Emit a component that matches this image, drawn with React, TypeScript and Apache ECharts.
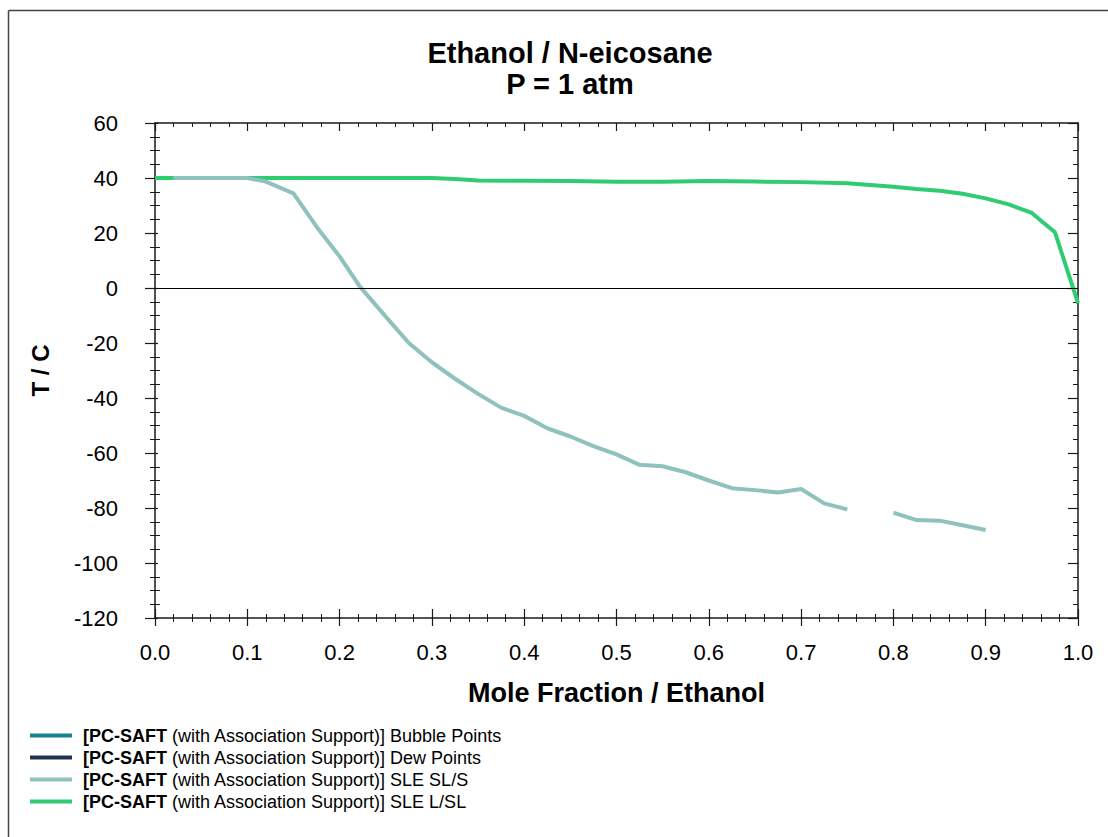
import React, { useEffect, useRef } from "react";
import * as echarts from "echarts";

// SLE L/SL branch (mole fraction ethanol, temperature in °C)
const lslX = [0, 0.05, 0.1, 0.15, 0.2, 0.25, 0.3, 0.325, 0.35, 0.4, 0.45, 0.5, 0.55, 0.6, 0.65, 0.7, 0.75, 0.8, 0.825, 0.85, 0.875, 0.9, 0.925, 0.95, 0.975, 1.0];
const lslT = [40, 40, 40, 40, 40, 40, 40, 39.6, 39.1, 39, 38.9, 38.6, 38.6, 38.9, 38.7, 38.5, 38.1, 36.8, 36, 35.4, 34.3, 32.6, 30.4, 27.3, 20.3, -5.5];

// SLE SL/S branch; null marks the break in the curve
const slsX = [0.02, 0.05, 0.1, 0.12, 0.15, 0.175, 0.2, 0.222, 0.25, 0.275, 0.3, 0.325, 0.35, 0.375, 0.4, 0.425, 0.45, 0.475, 0.5, 0.525, 0.55, 0.575, 0.6, 0.625, 0.65, 0.675, 0.7, 0.725, 0.75, 0.775, 0.8, 0.825, 0.85, 0.875, 0.9];
const slsT = [40, 40, 40, 38.7, 34.4, 22.3, 11.5, 0.5, -10.4, -20, -27, -33, -38.5, -43.5, -46.5, -51, -54, -57.5, -60.5, -64.3, -64.8, -67, -70, -72.8, -73.5, -74.4, -73.1, -78.3, -80.5, null, -81.7, -84.4, -84.6, -86.3, -88];

// Phase envelope branches (no points at this pressure)
const bubbleX: number[] = [];
const bubbleT: number[] = [];
const dewX: number[] = [];
const dewT: number[] = [];

const seriesNames = [
  "[PC-SAFT (with Association Support)] Bubble Points",
  "[PC-SAFT (with Association Support)] Dew Points",
  "[PC-SAFT (with Association Support)] SLE SL/S",
  "[PC-SAFT (with Association Support)] SLE L/SL",
];
const seriesColors = ["#1b8290", "#22344f", "#8fc1bd", "#2fcc72"];

const pairs = (xs: number[], ts: (number | null)[]) =>
  xs.map((x, i) => [x, ts[i] === null ? "-" : ts[i]]);

const FONT = "'Liberation Sans', Arial, Helvetica, sans-serif";
const AXIS_COLOR = "#1a1a1a";

export default function App() {
  const ref = useRef<HTMLDivElement>(null);

  useEffect(() => {
    if (!ref.current) return;
    const chart = echarts.init(ref.current, undefined, { renderer: "svg" });

    const xBase = { type: "value" as const, min: 0, max: 1, interval: 0.1, gridIndex: 0 };
    const yBase = { type: "value" as const, min: -120, max: 60, interval: 20, gridIndex: 0 };

    chart.setOption({
      animation: false,
      backgroundColor: "#ffffff",
      textStyle: { fontFamily: FONT },
      title: {
        text: "Ethanol / N-eicosane\nP = 1 atm",
        left: 565,
        top: 32,
        textAlign: "center",
        textStyle: { fontSize: 29, fontWeight: "bold", color: "#000", lineHeight: 31, fontFamily: FONT },
      },
      grid: { left: 155, top: 123, right: 30, bottom: 219, containLabel: false },
      legend: {
        orient: "vertical",
        left: 30,
        top: 726,
        padding: 0,
        icon: "rect",
        itemWidth: 42,
        itemHeight: 4,
        itemGap: 3,
        data: seriesNames,
        formatter: (name: string) => {
          const rest = name.replace("[PC-SAFT", "");
          return "{b|[PC-SAFT}" + rest;
        },
        textStyle: {
          fontSize: 18,
          lineHeight: 19,
          color: "#000",
          fontFamily: FONT,
          padding: [0, 0, 0, 6],
          rich: { b: { fontSize: 18, lineHeight: 19, fontWeight: "bold", color: "#000", fontFamily: FONT } },
        },
      },
      graphic: [
        { type: "line", shape: { x1: 8.5, y1: 10.5, x2: 8.5, y2: 837 }, style: { stroke: "#444", lineWidth: 1.5 } },
        { type: "line", shape: { x1: 8.5, y1: 10.5, x2: 1108, y2: 10.5 }, style: { stroke: "#444", lineWidth: 1.5 } },
      ],
      xAxis: [
        {
          ...xBase,
          position: "bottom",
          name: "Mole Fraction / Ethanol",
          nameLocation: "middle",
          nameGap: 61,
          nameTextStyle: { fontSize: 27, fontWeight: "bold", color: "#000", fontFamily: FONT },
          axisLine: { show: true, onZero: false, lineStyle: { color: AXIS_COLOR, width: 1.5 } },
          axisTick: { show: true, inside: true, length: 9, lineStyle: { color: AXIS_COLOR, width: 1.2 } },
          minorTick: { show: true, splitNumber: 5, length: 4, lineStyle: { color: AXIS_COLOR, width: 1 } },
          axisLabel: {
            show: true,
            margin: 23,
            fontSize: 22,
            color: "#000",
            fontFamily: FONT,
            formatter: (v: number) => v.toFixed(1),
          },
          splitLine: { show: false },
        },
        {
          ...xBase,
          position: "bottom",
          axisLine: { show: false, onZero: false },
          axisTick: { show: true, inside: false, length: 8, lineStyle: { color: AXIS_COLOR, width: 1.2 } },
          minorTick: { show: true, splitNumber: 5, length: 4, lineStyle: { color: AXIS_COLOR, width: 1 } },
          axisLabel: { show: false },
          splitLine: { show: false },
        },
        {
          ...xBase,
          position: "top",
          axisLine: { show: true, onZero: false, lineStyle: { color: AXIS_COLOR, width: 1.5 } },
          axisTick: { show: true, inside: true, length: 8, lineStyle: { color: AXIS_COLOR, width: 1.2 } },
          minorTick: { show: true, splitNumber: 5, length: 4, lineStyle: { color: AXIS_COLOR, width: 1 } },
          axisLabel: { show: false },
          splitLine: { show: false },
        },
      ],
      yAxis: [
        {
          ...yBase,
          position: "left",
          name: "T / C",
          nameLocation: "middle",
          nameRotate: 90,
          nameGap: 103,
          nameTextStyle: { fontSize: 24, fontWeight: "bold", color: "#000", fontFamily: FONT },
          axisLine: { show: true, onZero: false, lineStyle: { color: AXIS_COLOR, width: 1.5 } },
          axisTick: { show: true, inside: true, length: 3, lineStyle: { color: AXIS_COLOR, width: 1.2 } },
          minorTick: { show: true, splitNumber: 4, length: 5, lineStyle: { color: AXIS_COLOR, width: 1 } },
          axisLabel: { show: true, margin: 37, fontSize: 22, color: "#000", fontFamily: FONT },
          splitLine: { show: false },
        },
        {
          ...yBase,
          position: "left",
          axisLine: { show: false, onZero: false },
          axisTick: { show: true, inside: false, length: 10, lineStyle: { color: AXIS_COLOR, width: 1.2 } },
          minorTick: { show: true, splitNumber: 4, length: 5, lineStyle: { color: AXIS_COLOR, width: 1 } },
          axisLabel: { show: false },
          splitLine: { show: false },
        },
        {
          ...yBase,
          position: "right",
          axisLine: { show: true, onZero: false, lineStyle: { color: AXIS_COLOR, width: 1.5 } },
          axisTick: { show: true, inside: true, length: 10, lineStyle: { color: AXIS_COLOR, width: 1.2 } },
          minorTick: { show: true, splitNumber: 4, length: 5, lineStyle: { color: AXIS_COLOR, width: 1 } },
          axisLabel: { show: false },
          splitLine: { show: false },
        },
      ],
      series: [
        {
          name: seriesNames[0],
          type: "line",
          xAxisIndex: 0,
          yAxisIndex: 0,
          data: pairs(bubbleX, bubbleT),
          symbol: "none",
          color: seriesColors[0],
          lineStyle: { width: 4, color: seriesColors[0] },
          markLine: {
            silent: true,
            symbol: ["none", "none"],
            label: { show: false },
            lineStyle: { color: "#000", width: 1, type: "solid" },
            data: [{ yAxis: 0 }],
          },
        },
        {
          name: seriesNames[1],
          type: "line",
          xAxisIndex: 0,
          yAxisIndex: 0,
          data: pairs(dewX, dewT),
          symbol: "none",
          color: seriesColors[1],
          lineStyle: { width: 4, color: seriesColors[1] },
        },
        {
          name: seriesNames[3],
          type: "line",
          xAxisIndex: 0,
          yAxisIndex: 0,
          data: pairs(lslX, lslT),
          symbol: "none",
          color: seriesColors[3],
          lineStyle: { width: 4, color: seriesColors[3] },
          z: 3,
        },
        {
          name: seriesNames[2],
          type: "line",
          xAxisIndex: 0,
          yAxisIndex: 0,
          data: pairs(slsX, slsT),
          symbol: "none",
          connectNulls: false,
          color: seriesColors[2],
          lineStyle: { width: 4, color: seriesColors[2] },
          z: 4,
        },
      ],
    });

    return () => chart.dispose();
  }, []);

  return (
    <div
      ref={ref}
      style={{ position: "absolute", left: 0, top: 0, width: 1108, height: 837 }}
    />
  );
}
